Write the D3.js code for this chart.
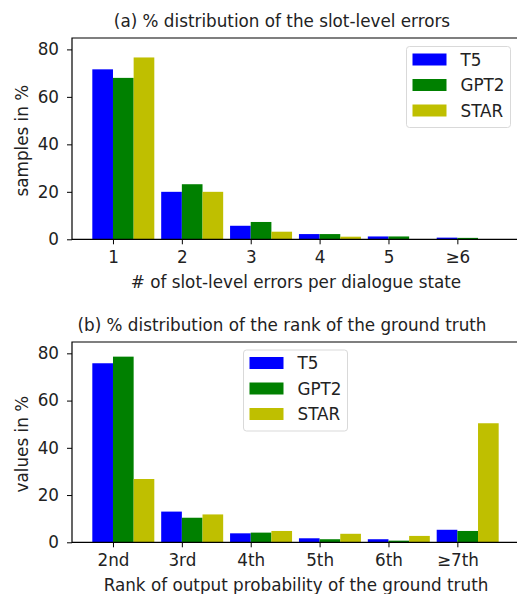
<!DOCTYPE html>
<html>
<head>
<meta charset="utf-8">
<script src="https://cdn.jsdelivr.net/npm/d3@7"></script>
<style>
  body { margin: 0; background: #fff; }
  text { font-family: "DejaVu Sans", sans-serif; fill: #222; }
</style>
</head>
<body>
<svg id="chart" width="517" height="594"></svg>
<script>
// series names and colours
const seriesNames = ['T5', 'GPT2', 'STAR'];
const seriesColors = ['#0000ff', '#008000', '#bfbf00'];

// (a) slot-level errors
const errorCats = ['1', '2', '3', '4', '5', '\u22656'];
const errT5 = [71.6, 20.0, 5.7, 2.2, 1.2, 0.7];
const errGPT2 = [68.0, 23.2, 7.3, 2.2, 1.2, 0.6];
const errSTAR = [76.6, 20.0, 3.2, 1.1, 0.1, 0.0];

// (b) rank of ground truth
const rankCats = ['2nd', '3rd', '4th', '5th', '6th', '\u22657th'];
const rankT5 = [75.8, 13.0, 3.8, 1.7, 1.3, 5.3];
const rankGPT2 = [78.6, 10.4, 4.1, 1.3, 0.7, 4.8];
const rankSTAR = [26.8, 11.8, 4.8, 3.6, 2.7, 50.4];

const yTicks = [0, 20, 40, 60, 80];

const svg = d3.select('#chart');
const fs = 16.8;

function panel(opts) {
    let g = svg.append('g');
    let series = [opts.t5, opts.gpt2, opts.star];

    // x is group index + 1, matplotlib-like margins
    let x = d3.scaleLinear().domain([0.405, 6.895]).range([72, 519]);
    let y = d3.scaleLinear().domain([0, 84.8]).range([opts.bottom, opts.top]);
    let bw = x(1.3) - x(1);

    series.forEach(function(vals, s) {
        g.append('g').selectAll('rect')
            .data(vals)
            .join('rect')
            .attr('x', (d, i) => x(i + 1) + (s - 1) * bw)
            .attr('width', bw)
            .attr('y', d => y(d))
            .attr('height', d => y(0) - y(d))
            .attr('fill', seriesColors[s]);
    });

    // axes
    let xAxis = d3.axisBottom(x)
        .tickValues(d3.range(1, 7))
        .tickFormat((d, i) => opts.cats[i])
        .tickSize(5).tickPadding(7);
    let gx = g.append('g').attr('transform', `translate(0,${opts.bottom})`).call(xAxis);
    let yAxis = d3.axisLeft(y).tickValues(yTicks).tickSize(5).tickPadding(8);
    let gy = g.append('g').attr('transform', 'translate(72,0)').call(yAxis);
    [gx, gy].forEach(function(a) {
        a.select('.domain').remove();
        a.selectAll('line').attr('stroke', '#000').attr('stroke-width', 1);
        a.selectAll('text').attr('font-size', fs).attr('fill', '#222')
            .style('font-family', '"DejaVu Sans", sans-serif');
    });

    // spines (right spine falls outside the picture)
    g.append('path')
        .attr('d', `M519,${opts.top}H72V${opts.bottom}H519`)
        .attr('fill', 'none').attr('stroke', '#000').attr('stroke-width', 1.2);

    // titles
    g.append('text').attr('x', 282).attr('y', opts.top - 11.5)
        .attr('text-anchor', 'middle').attr('font-size', fs).text(opts.title);
    g.append('text').attr('x', 296).attr('y', opts.xlabelY)
        .attr('text-anchor', 'middle').attr('font-size', fs).text(opts.xlabel);
    g.append('text')
        .attr('transform', `translate(28,${(opts.top + opts.bottom) / 2 + 2}) rotate(-90)`)
        .attr('text-anchor', 'middle').attr('font-size', fs).text(opts.ylabel);

    // legend
    let lg = g.append('g');
    lg.append('rect')
        .attr('x', opts.lx).attr('y', opts.ly)
        .attr('width', 104).attr('height', 81).attr('rx', 3)
        .attr('fill', '#fff').attr('fill-opacity', 0.8)
        .attr('stroke', '#d9d9d9');
    seriesNames.forEach(function(name, s) {
        let cy = opts.ly + 13 + s * 25.5;
        lg.append('rect').attr('x', opts.lx + 6).attr('y', cy - 6)
            .attr('width', 34).attr('height', 12).attr('fill', seriesColors[s]);
        lg.append('text').attr('x', opts.lx + 54).attr('y', cy + 6)
            .attr('font-size', fs).text(name);
    });
}

panel({
    top: 38, bottom: 239.3,
    cats: errorCats, t5: errT5, gpt2: errGPT2, star: errSTAR,
    title: '(a) % distribution of the slot-level errors',
    xlabel: '# of slot-level errors per dialogue state', xlabelY: 288,
    ylabel: 'samples in %',
    lx: 406.5, ly: 46.5
});

panel({
    top: 342, bottom: 542.3,
    cats: rankCats, t5: rankT5, gpt2: rankGPT2, star: rankSTAR,
    title: '(b) % distribution of the rank of the ground truth',
    xlabel: 'Rank of output probability of the ground truth', xlabelY: 591,
    ylabel: 'values in %',
    lx: 243.5, ly: 350
});
</script>
</body>
</html>
